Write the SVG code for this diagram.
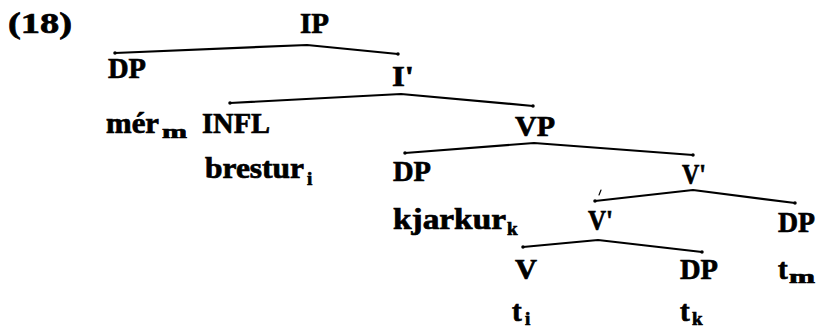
<svg xmlns="http://www.w3.org/2000/svg" width="817" height="332" viewBox="0 0 817 332">
<defs>
<style>
text{font-family:"Liberation Serif","Times New Roman",serif;font-weight:bold;fill:#000;stroke:#000;stroke-width:0.7}
.l{font-size:29px}
.s{font-size:19px}
.e{fill:none;stroke:#000;stroke-width:2.2;stroke-linecap:round;stroke-linejoin:round}
</style>
<marker id="dot" viewBox="-2 -2 4 4" markerWidth="2" markerHeight="2" markerUnits="strokeWidth"><circle r="1.6" fill="#000"/></marker>
</defs>
<rect width="817" height="332" fill="#fff"/>
<text class="l" x="8" y="33" textLength="64" lengthAdjust="spacingAndGlyphs">(18)</text>
<g id="connectors">
<path class="e" d="M115,53 L307,45 L398,54" marker-start="url(#dot)" marker-end="url(#dot)"/>
<path class="e" d="M230,103 L401,94 L533,106" marker-start="url(#dot)" marker-end="url(#dot)"/>
<path class="e" d="M405,153 L534,143 L693,155" marker-start="url(#dot)" marker-end="url(#dot)"/>
<path class="e" d="M595,201 L693,190 L795,203" marker-start="url(#dot)" marker-end="url(#dot)"/>
<path class="e" d="M523,247 L598,240 L702,252" marker-start="url(#dot)" marker-end="url(#dot)"/>
<path class="e" d="M601,190 L599,195" style="stroke-width:1.2"/>
</g>
<g id="IP"><text class="l" x="300" y="33" textLength="29" lengthAdjust="spacingAndGlyphs">IP</text></g>
<g id="DP1"><text class="l" x="108" y="78" textLength="38" lengthAdjust="spacingAndGlyphs">DP</text></g>
<g id="mer"><text class="l" x="106" y="133" textLength="53" lengthAdjust="spacingAndGlyphs">mér</text><text class="s" x="162" y="138" textLength="25" lengthAdjust="spacingAndGlyphs">m</text></g>
<g id="I1"><text class="l" x="392" y="86" textLength="22" lengthAdjust="spacingAndGlyphs">I'</text></g>
<g id="INFL"><text class="l" x="202" y="133" textLength="68" lengthAdjust="spacingAndGlyphs">INFL</text></g>
<g id="brestur"><text class="l" x="205" y="178" textLength="99" lengthAdjust="spacingAndGlyphs">brestur</text><text class="s" x="307" y="185">i</text></g>
<g id="VP"><text class="l" x="515" y="136" textLength="40" lengthAdjust="spacingAndGlyphs">VP</text></g>
<g id="DP2"><text class="l" x="393" y="181" textLength="38" lengthAdjust="spacingAndGlyphs">DP</text></g>
<g id="kjarkur"><text class="l" x="393" y="229" textLength="113" lengthAdjust="spacingAndGlyphs">kjarkur</text><text class="s" x="507" y="235">k</text></g>
<g id="V1"><text class="l" x="682" y="184" textLength="24" lengthAdjust="spacingAndGlyphs">V'</text></g>
<g id="V2"><text class="l" x="588" y="230" textLength="25" lengthAdjust="spacingAndGlyphs">V'</text></g>
<g id="DP3"><text class="l" x="778" y="232" textLength="37" lengthAdjust="spacingAndGlyphs">DP</text></g>
<g id="V3"><text class="l" x="515" y="279" textLength="22" lengthAdjust="spacingAndGlyphs">V</text></g>
<g id="ti"><text class="l" x="512" y="321">t</text><text class="s" x="525" y="325">i</text></g>
<g id="DP4"><text class="l" x="680" y="279" textLength="38" lengthAdjust="spacingAndGlyphs">DP</text></g>
<g id="tk"><text class="l" x="680" y="321">t</text><text class="s" x="692" y="325">k</text></g>
<g id="tm"><text class="l" x="778" y="279">t</text><text class="s" x="789" y="283" textLength="26" lengthAdjust="spacingAndGlyphs">m</text></g>
</svg>
